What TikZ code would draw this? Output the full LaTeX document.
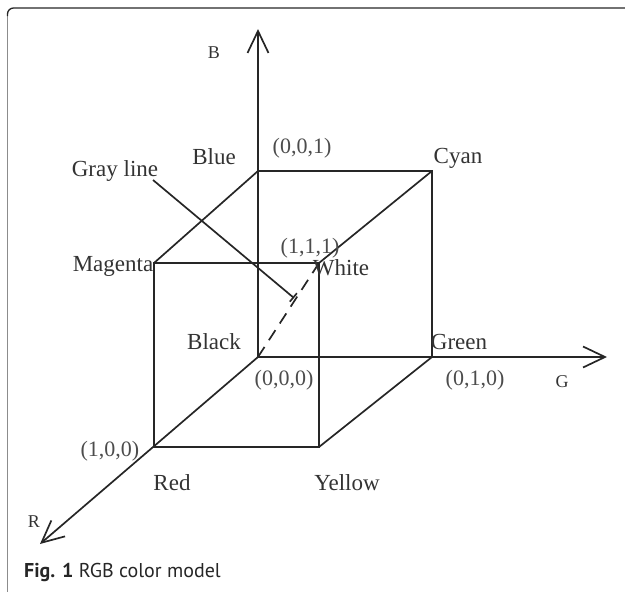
\documentclass[tikz,border=0pt]{standalone}
\usepackage{fontspec}
\setmainfont{Liberation Serif}
\newfontfamily\capfont{PT Sans}
\usetikzlibrary{arrows.meta}

\begin{document}
\begin{tikzpicture}[
  x=1pt, y=-1pt,
  >={Straight Barb[length=22pt, width=21pt]},
  edge/.style={line width=1.7pt, draw=black!85},
  lbl/.style={font=\fontsize{23}{25}\selectfont, text=black!80, inner sep=0pt},
  coordlbl/.style={font=\fontsize{22}{24}\selectfont, text=black!70, inner sep=0pt},
  axislbl/.style={font=\fontsize{18}{20}\selectfont, text=black!80, inner sep=0pt}
]
\useasboundingbox (0,0) rectangle (625,592);

% Figure frame
\draw[black!45, line width=1.3pt] (7.5,592) -- (7.5,16);
\draw[black!85, line width=1.3pt, rounded corners=6pt] (7.5,16) -- (7.5,8) -- (625,8);

% Cube corners
\coordinate (black)   at (258,357);
\coordinate (blue)    at (258,171);
\coordinate (cyan)    at (432,171);
\coordinate (green)   at (432,357);
\coordinate (magenta) at (154,263);
\coordinate (white)   at (319,263);
\coordinate (red)     at (154,447);
\coordinate (yellow)  at (319,447);

% Axis ends
\coordinate (btip) at (258,29);
\coordinate (gtip) at (607,357);
\coordinate (rtip) at (40,544);

% Axes
\draw[edge, ->] (black) -- (btip);
\draw[edge, ->] (black) -- (gtip);
\draw[edge, ->] (black) -- (rtip);

% Cube edges
\draw[edge] (blue) -- (cyan) -- (green);
\draw[edge] (magenta) -- (white) -- (yellow) -- (red) -- cycle;
\draw[edge] (blue) -- (magenta);
\draw[edge] (cyan) -- (white);
\draw[edge] (green) -- (yellow);

% Gray line (main diagonal) and its pointer
\draw[edge, dash pattern=on 12pt off 8pt] (black) -- (white);
\coordinate (gstart) at (153,180);
\coordinate (gend)   at (294,298);
\draw[edge, -{Bar[width=11pt]}] (gstart) -- (gend);

% Corner labels
\node[lbl] (lblue)    at (214,157) {Blue};
\node[lbl] (lcyan)    at (458,158) {Cyan};
\node[lbl] (lgray)    at (115,171) {Gray line};
\node[lbl] (lmagenta) at (113,266) {Magenta};
\node[lbl] (lwhite)   at (341,268) {White};
\node[lbl] (lblack)   at (214,342) {Black};
\node[lbl] (lgreen)   at (459,342) {Green};
\node[lbl] (lred)     at (172,483) {Red};
\node[lbl] (lyellow)  at (347,483) {Yellow};

% Coordinates
\node[coordlbl] (c001) at (302,148) {(0,0,1)};
\node[coordlbl] (c111) at (310,248) {(1,1,1)};
\node[coordlbl] (c000) at (284,380) {(0,0,0)};
\node[coordlbl] (c010) at (475,380) {(0,1,0)};
\node[coordlbl] (c100) at (110,451) {(1,0,0)};

% Axis names
\node[axislbl] (lb) at (214,53)  {B};
\node[axislbl] (lg) at (562,382) {G};
\node[axislbl] (lr) at (34,522)  {R};

% Caption
\node[anchor=base west, inner sep=0pt, text=black!85,
      font=\capfont\fontsize{20}{22}\selectfont] (caption) at (24,577)
      {\textbf{Fig. 1} RGB color model};

\end{tikzpicture}
\end{document}
